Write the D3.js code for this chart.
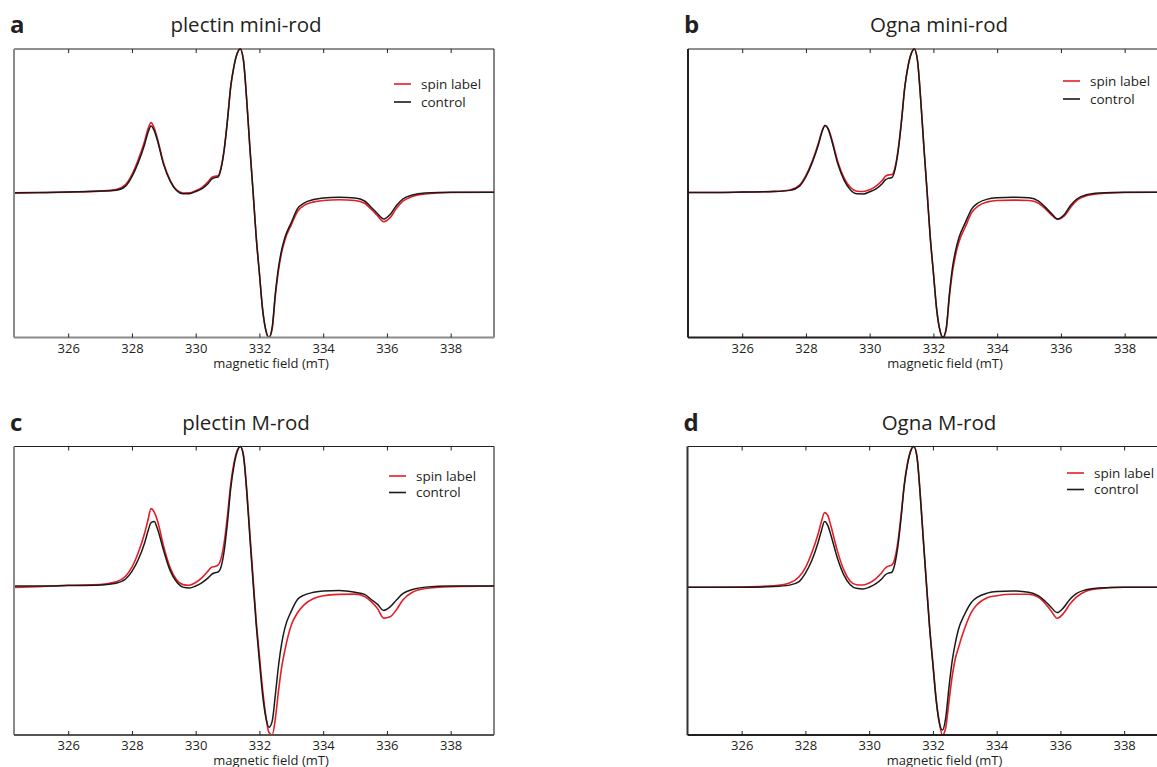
<!DOCTYPE html>
<html>
<head>
<meta charset="utf-8">
<script src="https://cdn.jsdelivr.net/npm/d3@7"></script>
<style>
  html, body { margin: 0; padding: 0; background: #fff; }
  svg { display: block; }
  text { font-family: "Open Sans", "Noto Sans", sans-serif; fill: #231f20; }
</style>
</head>
<body>
<svg id="fig" width="1157" height="767"></svg>
<script>
// Magnetic field sweep (mT), shared by every spectrum
const field = [324.3, 325.0, 326.0, 327.0, 327.5,
  327.8, 328.0, 328.2, 328.4, 328.5,
  328.6, 328.7, 328.8, 329.0, 329.2,
  329.4, 329.6, 329.8, 330.0, 330.2,
  330.4, 330.5, 330.6, 330.7, 330.8,
  330.9, 331.0, 331.1, 331.2, 331.3,
  331.4, 331.5, 331.6, 331.7, 331.8,
  331.9, 332.0, 332.1, 332.2, 332.3,
  332.4, 332.5, 332.6, 332.7, 332.8,
  333.0, 333.2, 333.4, 333.7, 334.0,
  334.5, 335.0, 335.3, 335.5, 335.7,
  335.9, 336.1, 336.3, 336.5, 336.8,
  337.2, 338.0, 339.36];

// EPR first-derivative spectra, normalised to the central line (= 100)
const plectinMiniSpin = [-0.4, -0.2, 0.3, 1.0, 2.0,
  5.5, 12.5, 23.0, 36.0, 44.0,
  48.7, 45.0, 37.5, 20.0, 8.5,
  1.8, -0.3, -0.2, 1.3, 3.6,
  7.8, 10.5, 11.4, 11.6, 17.8,
  31.0, 51.2, 74.0, 87.9, 96.8,
  100, 92.0, 65.0, 31.8, 1.0,
  -31.0, -56.4, -81.5, -96.0, -101.0,
  -95.0, -72.0, -54.0, -41.5, -33.0,
  -22.5, -13.0, -9.0, -6.5, -5.5,
  -5.0, -5.5, -7.5, -11.5, -16.0,
  -20.3, -17.5, -11.0, -6.0, -2.8,
  -1.0, 0, 0.2];
const plectinMiniControl = [-0.2, 0, 0.3, 1.0, 1.6,
  4.5, 11.1, 21.0, 33.7, 41.5,
  46.4, 43.1, 36.2, 19.1, 8.0,
  1.4, -0.9, -0.8, 0.7, 2.8,
  6.5, 9.3, 10.4, 10.8, 17.1,
  30.6, 50.8, 73.8, 87.7, 96.7,
  100, 91.9, 64.7, 31.3, 0.7,
  -31.3, -56.4, -81.4, -95.7, -100.9,
  -94.0, -70.3, -52.2, -39.7, -31.3,
  -20.9, -11.1, -7.3, -4.9, -3.8,
  -3.3, -3.8, -5.9, -10.1, -14.6,
  -18.4, -15.3, -9.0, -4.5, -1.7,
  -0.3, 0.2, 0.2];

const ognaMiniSpin = [0, 0, 0.3, 0.8, 1.8,
  5.2, 12, 22, 35, 42.5,
  46.7, 44.5, 38, 21.5, 10,
  3.5, 0.9, 0.7, 2.0, 4.5,
  8.5, 11.5, 12.3, 12.5, 18,
  31, 50.5, 73.2, 87.6, 96.6,
  100, 92, 65.2, 32.2, 1.2,
  -31, -56, -81, -95.7, -101,
  -95.5, -73, -55, -43, -34.5,
  -24, -14, -9.5, -6.5, -5.5,
  -5.3, -5.5, -7.5, -11, -15.5,
  -18.7, -16.5, -10.5, -5.5, -2.3,
  -0.8, 0, 0.2];
const ognaMiniControl = [0, 0, 0.3, 0.7, 1.5,
  4.5, 11, 21, 34, 42,
  46.7, 44, 37, 20, 8.5,
  1.8, -0.9, -1.0, 0.5, 2.6,
  6.3, 9.0, 10.0, 10.5, 16.5,
  30, 50, 73, 87.5, 96.5,
  100, 92, 65, 32, 1,
  -31, -56, -81, -95.5, -100.8,
  -95, -71, -52, -40, -31.5,
  -21, -11.5, -7.3, -4.6, -3.7,
  -3.3, -3.7, -6.0, -10.0, -14.5,
  -18.5, -15.5, -9.0, -4.5, -1.5,
  -0.3, 0.2, 0.2];

const plectinMSpin = [-1, -0.5, 0.5, 1, 3,
  7, 13.5, 24, 38, 47,
  55.5, 53, 47, 28, 13,
  4.5, 1, 0.5, 2.5, 6,
  11, 13.5, 14, 15, 20,
  32, 51, 73, 88, 97,
  100, 94, 70, 38, 6,
  -25, -50, -74, -93, -105,
  -106.8, -95, -75, -58, -46,
  -28, -19, -13.5, -9, -7,
  -6, -5.8, -7.5, -11, -16,
  -23, -22, -17, -10, -4.5,
  -1.8, -0.5, 0];
const plectinMControl = [0, 0, 0.3, 0.8, 2,
  5, 10.5, 19, 31, 39,
  45.5, 46.3, 41, 25, 11,
  3, -0.8, -1.4, 0, 2.5,
  6, 8.3, 9.5, 10, 14,
  26, 46, 70, 86, 96,
  100, 93, 68, 35, 3,
  -28, -54, -78, -94, -101.3,
  -97, -78, -57, -41, -30,
  -18, -9.5, -6.5, -4.5, -3.5,
  -3.2, -4.5, -6.0, -9.5, -13,
  -17.5, -15, -10, -5.5, -2.5,
  -0.8, 0, 0];

const ognaMSpin = [0, 0, 0.2, 1, 3,
  7.5, 14, 24.5, 38, 46.5,
  53, 51, 43.5, 26, 12.5,
  4.5, 1.8, 1.6, 3, 6,
  10.5, 13.5, 15, 15.6, 20,
  32, 51, 73, 88, 97,
  100, 93, 67, 34, 2,
  -29, -54, -79, -96, -105,
  -100, -82, -64, -51, -43,
  -29, -18, -12, -7.5, -6,
  -5, -5, -7, -11, -16.5,
  -22, -18.5, -12, -7, -2.8,
  -1, 0, 0];
const ognaMControl = [0, 0, 0, 0.5, 1.5,
  4, 10, 19, 32, 40,
  46.7, 44, 37, 21, 9,
  2, -0.8, -1.2, 0, 2.3,
  6, 8.7, 10, 10.5, 16,
  29, 49, 72, 87, 96.5,
  100, 92.5, 66, 33, 1,
  -30, -55, -80, -96, -101.5,
  -93, -72, -53, -40, -30,
  -19, -11, -7, -4.2, -3,
  -2.6, -3.5, -6, -9.5, -14,
  -18, -14.5, -8.5, -4.5, -1.8,
  -0.5, 0, 0];

const fieldTicks = [326, 328, 330, 332, 334, 336, 338];
const seriesNames = ["spin label", "control"];
const panelLetters = ["a", "b", "c", "d"];
const panelTitles = ["plectin mini-rod", "Ogna mini-rod", "plectin M-rod", "Ogna M-rod"];

// Layout of the four panels
const layout = [
  { left: 14,    top: 49,    legX: 394,  legY: 84,  legGap: 18,   titleX: 246, frame: "#8a8a8a", bottomFrame: "#8a8a8a" },
  { left: 688,   top: 49,    legX: 1063, legY: 81,  legGap: 18,   titleX: 939, frame: "#231f20", bottomFrame: "#231f20" },
  { left: 14,    top: 446.5, legX: 389,  legY: 476, legGap: 16.5, titleX: 246, frame: "#8a8a8a", bottomFrame: "#555" },
  { left: 687.5, top: 446.5, legX: 1067, legY: 473, legGap: 16.5, titleX: 939, frame: "#333",    bottomFrame: "#231f20" }
];
const plotW = 480, plotH = 288.5;
const colors = ["#e41e26", "#1a1a1a"];

const spectra = [
  [plectinMiniSpin, plectinMiniControl],
  [ognaMiniSpin, ognaMiniControl],
  [plectinMSpin, plectinMControl],
  [ognaMSpin, ognaMControl]
];

const svg = d3.select("#fig");

spectra.forEach((pair, i) => {
  const L = layout[i];
  const g = svg.append("g").attr("transform", `translate(${L.left},${L.top})`);

  const x = d3.scaleLinear().domain([field[0], field[field.length - 1]]).range([0, plotW]);
  const allVals = pair[0].concat(pair[1]);
  const y = d3.scaleLinear().domain(d3.extent(allVals)).range([plotH, 0]);

  const clipId = "clip" + i;
  g.append("clipPath").attr("id", clipId)
    .append("rect").attr("x", 0).attr("y", -2).attr("width", plotW).attr("height", plotH + 4);

  const line = d3.line()
    .x((d, k) => x(field[k]))
    .y(d => y(d))
    .curve(d3.curveMonotoneX);

  // spin-label trace first, control drawn over it
  const curves = g.append("g").attr("clip-path", `url(#${clipId})`);
  curves.append("path").datum(pair[0])
    .attr("d", line).attr("fill", "none")
    .attr("stroke", colors[0]).attr("stroke-width", 1.6).attr("stroke-linejoin", "round");
  curves.append("path").datum(pair[1])
    .attr("d", line).attr("fill", "none")
    .attr("stroke", colors[1]).attr("stroke-width", 1.5).attr("stroke-linejoin", "round");

  // frame: top and right thin, left and bottom heavier
  g.append("line").attr("x1", 0).attr("x2", plotW).attr("y1", 0).attr("y2", 0)
    .attr("stroke", "#231f20").attr("stroke-width", 1.1);
  g.append("line").attr("x1", plotW).attr("x2", plotW).attr("y1", 0).attr("y2", plotH)
    .attr("stroke", "#231f20").attr("stroke-width", 1.1);
  g.append("line").attr("x1", 0).attr("x2", 0).attr("y1", 0).attr("y2", plotH)
    .attr("stroke", L.frame).attr("stroke-width", 2);

  // bottom axis with inward ticks
  const xb = d3.axisBottom(x).tickValues(fieldTicks).tickSize(-4).tickPadding(6).tickFormat(d3.format("d"));
  const gb = g.append("g").attr("transform", `translate(0,${plotH})`).call(xb);
  gb.select(".domain").attr("stroke", L.bottomFrame).attr("stroke-width", 2).attr("d", `M0,0H${plotW}`);
  gb.selectAll(".tick line").attr("stroke", "#231f20").attr("stroke-width", 1);
  gb.selectAll(".tick text").attr("font-size", 13).attr("fill", "#231f20")
    .style("font-family", '"Open Sans", sans-serif');

  // top axis, ticks only
  const xt = d3.axisTop(x).tickValues(fieldTicks).tickSize(-4).tickFormat("");
  const gt = g.append("g").call(xt);
  gt.select(".domain").remove();
  gt.selectAll(".tick line").attr("stroke", "#231f20").attr("stroke-width", 1);

  // axis title
  g.append("text").attr("x", 257).attr("y", plotH + 30)
    .attr("text-anchor", "middle").attr("font-size", 13)
    .text("magnetic field (mT)");

  // panel title and letter
  svg.append("text").attr("x", L.titleX).attr("y", L.top - 17)
    .attr("text-anchor", "middle").attr("font-size", 20.5)
    .text(panelTitles[i]);
  svg.append("text").attr("x", L.left - 4).attr("y", L.top - 16)
    .attr("font-size", 24).attr("font-weight", 700)
    .text(panelLetters[i]);

  // legend
  seriesNames.forEach((name, k) => {
    const ly = L.legY + k * L.legGap;
    svg.append("line").attr("x1", L.legX).attr("x2", L.legX + 17)
      .attr("y1", ly).attr("y2", ly)
      .attr("stroke", colors[k]).attr("stroke-width", 1.6);
    svg.append("text").attr("x", L.legX + 27).attr("y", ly + 4.5)
      .attr("font-size", 13.5).text(name);
  });
});
</script>
</body>
</html>
